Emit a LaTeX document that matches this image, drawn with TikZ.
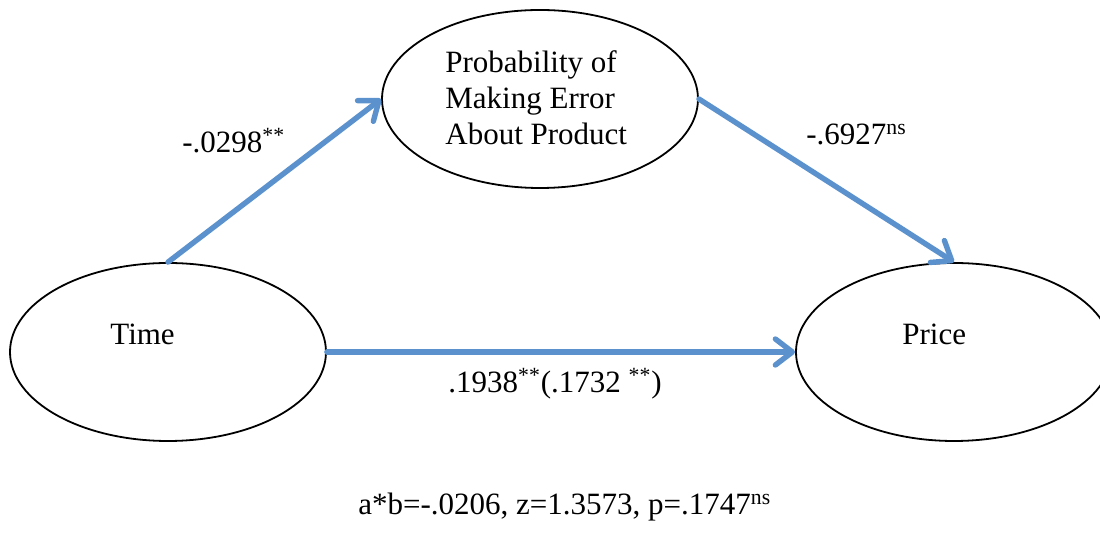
\documentclass[tikz,border=0pt]{standalone}
\usepackage{fontspec}
\setmainfont{Liberation Serif}
\usetikzlibrary{shapes.geometric,arrows.meta}
\definecolor{pathblue}{RGB}{91,146,206}
\begin{document}
\begin{tikzpicture}[x=0.5pt,y=-0.5pt,
  latent/.style={ellipse,draw=black,line width=0.9pt,fill=white,inner sep=0pt,
    minimum width=158pt,minimum height=89pt},
  lbl/.style={inner sep=0pt,anchor=base west,font=\fontsize{15.5}{18}\selectfont},
  path arrow/.style={draw=pathblue,line width=2.7pt,line cap=round,
    -{Straight Barb[length=8.5pt,width=13pt,line cap=round,line join=round]}}]
  \useasboundingbox (0,0) rectangle (1100,539);

  % latent variables
  \node[latent] (prob)  at (540,99)  {};
  \node[latent] (time)  at (168,352) {};
  \node[latent] (price) at (954,352) {};

  % variable names (baseline of the last line)
  \node[lbl,align=left] (probtxt) at (445,145) {Probability of\\Making Error\\About Product};
  \node[lbl] (timetxt)  at (110,345) {Time};
  \node[lbl] (pricetxt) at (902,345) {Price};

  % paths
  \draw[path arrow] (time.north) -- (prob.west);
  \draw[path arrow] (prob.east) -- (price.north);
  \draw[path arrow] (time.east) -- (price.west);

  % coefficients
  \node[lbl] (coefa) at (182,153) {-.0298\textsuperscript{**}};
  \node[lbl] (coefb) at (806,145) {-.6927\textsuperscript{ns}};
  \node[lbl] (coefc) at (448,393) {.1938\textsuperscript{**}(.1732 \textsuperscript{**})};
  \node[lbl] (sobel) at (358,515) {a*b=-.0206, z=1.3573, p=.1747\textsuperscript{ns}};
\end{tikzpicture}
\end{document}
